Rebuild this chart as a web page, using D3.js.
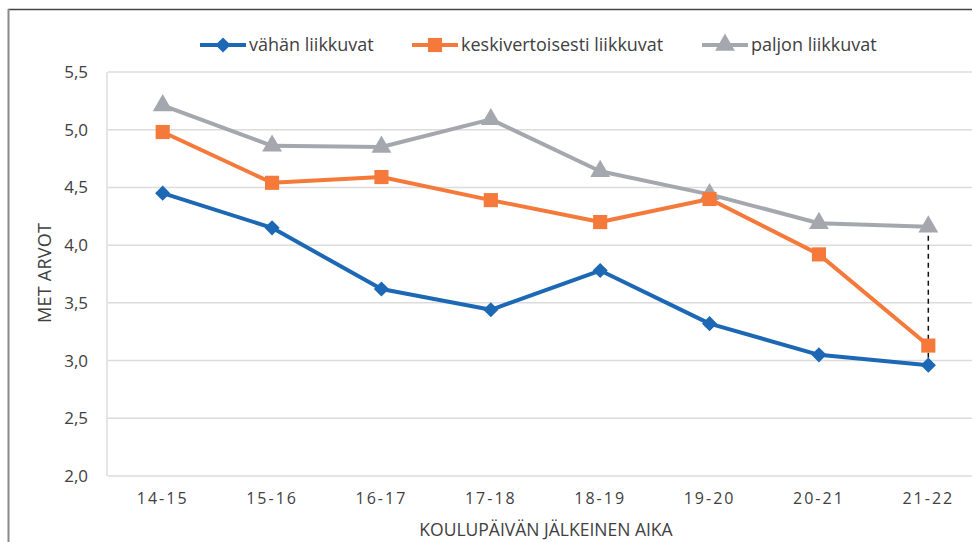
<!DOCTYPE html>
<html>
<head>
<meta charset="utf-8">
<script src="https://cdn.jsdelivr.net/npm/d3@7"></script>
<style>
  body { margin: 0; background: #fff; }
  svg text { font-family: "Open Sans", sans-serif; fill: #404040; }
</style>
</head>
<body>
<div id="chart"></div>
<script>
// data
var categories = ["14-15", "15-16", "16-17", "17-18", "18-19", "19-20", "20-21", "21-22"];
var vahan = [4.45, 4.15, 3.62, 3.44, 3.78, 3.32, 3.05, 2.96];
var keski = [4.98, 4.54, 4.59, 4.39, 4.20, 4.40, 3.92, 3.13];
var paljon = [5.21, 4.86, 4.85, 5.09, 4.64, 4.44, 4.19, 4.16];
var seriesNames = ["vähän liikkuvat", "keskivertoisesti liikkuvat", "paljon liikkuvat"];
var yTicks = [2.0, 2.5, 3.0, 3.5, 4.0, 4.5, 5.0, 5.5];

var W = 972, H = 542;
var colors = ["#1c68b5", "#f4793a", "#a4a8ae"];
var shapes = [d3.symbolSquare, d3.symbolSquare, d3.symbolTriangle];
var sizes = [115, 200, 170];
var rot = [45, 0, 0];

var svg = d3.select("#chart").append("svg").attr("width", W).attr("height", H);

// outer frame
svg.append("line").attr("x1", 8).attr("x2", W).attr("y1", 9.5).attr("y2", 9.5)
  .attr("stroke", "#444").attr("stroke-width", 1.5);
svg.append("line").attr("x1", 8.5).attr("x2", 8.5).attr("y1", 9).attr("y2", H)
  .attr("stroke", "#8a8a8a").attr("stroke-width", 2);

var x = d3.scaleBand().domain(categories).range([108, 983]);
var y = d3.scaleLinear().domain([2, 5.5]).range([476, 72]);

// gridlines
svg.append("g").selectAll("line").data(yTicks).enter().append("line")
  .attr("x1", 108).attr("x2", W)
  .attr("y1", function(d) { return y(d); }).attr("y2", function(d) { return y(d); })
  .attr("stroke", "#dcdcdc").attr("stroke-width", 1.5);
svg.append("line").attr("x1", 107).attr("x2", 107).attr("y1", 72).attr("y2", 476)
  .attr("stroke", "#dcdcdc").attr("stroke-width", 1.5);

// y axis
var yAxis = d3.axisLeft(y).tickValues(yTicks).tickSize(0).tickPadding(19)
  .tickFormat(function(d) { return d3.format(".1f")(d).replace(".", ","); });
var gy = svg.append("g").attr("transform", "translate(107,0)").call(yAxis);
gy.select(".domain").remove();
gy.selectAll("text").style("font-size", "17px").attr("fill", "#404040");

// x axis
var xAxis = d3.axisBottom(x).tickSize(0).tickPadding(17);
var gx = svg.append("g").attr("transform", "translate(0,476)").call(xAxis);
gx.select(".domain").remove();
gx.selectAll("text").style("font-size", "16px").style("letter-spacing", "2px").attr("fill", "#404040");

// axis titles
svg.append("text").attr("x", 546).attr("y", 536).attr("text-anchor", "middle")
  .style("font-size", "17.5px").text("KOULUPÄIVÄN JÄLKEINEN AIKA");
svg.append("text").attr("transform", "translate(51,273) rotate(-90)").attr("text-anchor", "middle")
  .style("font-size", "18px").attr("textLength", 100).text("MET ARVOT");

// dashed gap line
var last = categories[categories.length - 1];
svg.append("line")
  .attr("x1", x(last) + x.bandwidth() / 2).attr("x2", x(last) + x.bandwidth() / 2)
  .attr("y1", y(paljon[7])).attr("y2", y(vahan[7]))
  .attr("stroke", "#111").attr("stroke-width", 1.5).attr("stroke-dasharray", "5,4");

var line = d3.line()
  .x(function(d, i) { return x(categories[i]) + x.bandwidth() / 2; })
  .y(function(d) { return y(d); });

var allSeries = [vahan, keski, paljon];
// draw from back to front: paljon, keski, vahan
[2, 1, 0].forEach(function(s) {
  var g = svg.append("g");
  g.append("path").datum(allSeries[s]).attr("d", line)
    .attr("fill", "none").attr("stroke", colors[s]).attr("stroke-width", 4)
    .attr("stroke-linejoin", "round");
  g.selectAll("path.m").data(allSeries[s]).enter().append("path").attr("class", "m")
    .attr("d", d3.symbol().type(shapes[s]).size(sizes[s]))
    .attr("transform", function(d, i) {
      return "translate(" + (x(categories[i]) + x.bandwidth() / 2) + "," + y(d) + ") rotate(" + rot[s] + ")";
    })
    .attr("fill", colors[s]);
});

// legend
var legX = [200, 412, 702];
var leg = svg.append("g");
seriesNames.forEach(function(n, i) {
  var g = leg.append("g").attr("transform", "translate(" + legX[i] + ",45)");
  g.append("line").attr("x1", 0).attr("x2", 46).attr("y1", 0).attr("y2", 0)
    .attr("stroke", colors[i]).attr("stroke-width", 4);
  g.append("path").attr("d", d3.symbol().type(shapes[i]).size(sizes[i]))
    .attr("transform", "translate(23,0) rotate(" + rot[i] + ")").attr("fill", colors[i]);
  g.append("text").attr("x", 49).attr("y", 6).style("font-size", "18px").text(n);
});
</script>
</body>
</html>
